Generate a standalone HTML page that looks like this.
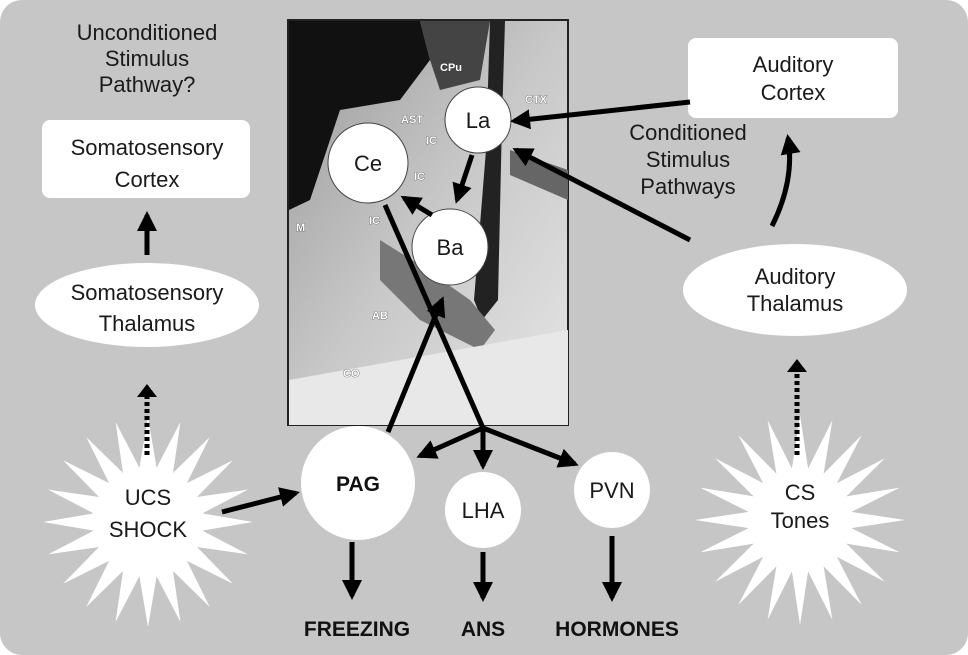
<!DOCTYPE html>
<html><head><meta charset="utf-8"><style>
html,body{margin:0;padding:0;background:#fff;}
svg{display:block;}
text{font-family:"Liberation Sans",sans-serif;fill:#1a1a1a;}
.lbl{font-size:22px;text-anchor:middle;}
.big{font-size:21px;font-weight:bold;text-anchor:middle;fill:#111;}
.ph{font-size:11px;font-weight:bold;fill:#fff;stroke:#333;stroke-width:0.6;paint-order:stroke;}
</style></head><body>
<svg id="s" width="968" height="655" viewBox="0 0 968 655" xmlns="http://www.w3.org/2000/svg">
<defs>
<marker id="ah" viewBox="0 0 10 10" refX="8" refY="5" markerWidth="4" markerHeight="4" orient="auto"><path d="M0,0 L10,5 L0,10 z" fill="#000"/></marker>
<linearGradient id="pg" x1="0" y1="0" x2="1" y2="1"><stop offset="0" stop-color="#999"/><stop offset="0.5" stop-color="#c8c8c8"/><stop offset="1" stop-color="#e6e6e6"/></linearGradient>
</defs>
<rect x="0" y="0" width="968" height="655" rx="22" fill="#c6c6c6"/>
<!-- photo -->
<rect x="288" y="20" width="280" height="405" fill="url(#pg)" stroke="#222" stroke-width="2"/>
<path d="M289,21 L420,21 L430,60 L400,100 L340,110 L310,200 L289,210 Z" fill="#111"/>
<path d="M420,21 L490,21 L480,80 L440,90 L430,60 Z" fill="#444"/>
<path d="M490,21 L505,21 L502,120 L498,300 L482,320 L474,300 L486,150 Z" fill="#222"/>
<path d="M380,240 L420,265 L470,300 L495,330 L480,350 L420,320 L380,280 Z" fill="#777"/>
<path d="M289,380 L568,330 L568,425 L289,425 Z" fill="#e8e8e8"/>
<path d="M510,150 L568,170 L568,200 L510,175 Z" fill="#666"/>
<text class="ph" x="440" y="71">CPu</text>
<text class="ph" x="525" y="103">CTX</text>
<text class="ph" x="401" y="123">AST</text>
<text class="ph" x="426" y="144">IC</text>
<text class="ph" x="414" y="180">IC</text>
<text class="ph" x="369" y="224">IC</text>
<text class="ph" x="296" y="231">M</text>
<text class="ph" x="372" y="319">AB</text>
<text class="ph" x="343" y="377">CO</text>
<circle cx="478" cy="120" r="33" fill="#fff" stroke="#444" stroke-width="1"/>
<text class="lbl" x="478" y="128">La</text>
<circle cx="368" cy="163" r="40" fill="#fff" stroke="#444" stroke-width="1"/>
<text class="lbl" x="368" y="171">Ce</text>
<circle cx="450" cy="247" r="38" fill="#fff" stroke="#444" stroke-width="1"/>
<text class="lbl" x="450" y="255">Ba</text>
<!-- left column -->
<text class="lbl" x="147" y="40">Unconditioned</text>
<text class="lbl" x="147" y="66">Stimulus</text>
<text class="lbl" x="147" y="92">Pathway?</text>
<rect x="42" y="120" width="208" height="78" rx="8" fill="#fff"/>
<text class="lbl" x="147" y="155">Somatosensory</text>
<text class="lbl" x="147" y="187">Cortex</text>
<ellipse cx="147" cy="305" rx="112" ry="42" fill="#fff"/>
<text class="lbl" x="147" y="300">Somatosensory</text>
<text class="lbl" x="147" y="331">Thalamus</text>
<polygon id="st1" fill="#fff"/>
<text class="lbl" x="148" y="505">UCS</text>
<text class="lbl" x="148" y="537">SHOCK</text>
<!-- right column -->
<rect x="688" y="38" width="210" height="80" rx="8" fill="#fff"/>
<text class="lbl" x="793" y="72">Auditory</text>
<text class="lbl" x="793" y="100">Cortex</text>
<text class="lbl" x="688" y="140">Conditioned</text>
<text class="lbl" x="688" y="167">Stimulus</text>
<text class="lbl" x="688" y="194">Pathways</text>
<ellipse cx="795" cy="290" rx="112" ry="46" fill="#fff"/>
<text class="lbl" x="795" y="284">Auditory</text>
<text class="lbl" x="795" y="311">Thalamus</text>
<polygon id="st2" fill="#fff"/>
<text class="lbl" x="800" y="500">CS</text>
<text class="lbl" x="800" y="528">Tones</text>
<g stroke="#000" stroke-width="5" fill="none">
<line x1="472" y1="155" x2="457" y2="200" marker-end="url(#ah)"/>
<line x1="432" y1="215" x2="404" y2="198" marker-end="url(#ah)"/>
<line x1="385" y1="205" x2="483" y2="428"/>
<line x1="388" y1="432" x2="442" y2="300" marker-end="url(#ah)"/>
<line x1="483" y1="428" x2="420" y2="456" marker-end="url(#ah)"/>
<line x1="483" y1="428" x2="483" y2="466" marker-end="url(#ah)"/>
<line x1="483" y1="428" x2="575" y2="464" marker-end="url(#ah)"/>
<line x1="690" y1="102" x2="514" y2="121" marker-end="url(#ah)"/>
<line x1="690" y1="240" x2="516" y2="150" marker-end="url(#ah)"/>
<path d="M772,226 Q795,180 788,138" marker-end="url(#ah)"/>
<line x1="147" y1="255" x2="147" y2="215" marker-end="url(#ah)"/>
<line x1="222" y1="512" x2="296" y2="493" marker-end="url(#ah)"/>
<line x1="352" y1="542" x2="352" y2="596" marker-end="url(#ah)"/>
<line x1="483" y1="552" x2="483" y2="598" marker-end="url(#ah)"/>
<line x1="612" y1="536" x2="612" y2="598" marker-end="url(#ah)"/>
<line x1="147" y1="455" x2="147" y2="395" stroke-dasharray="4,3"/>
<line x1="797" y1="455" x2="797" y2="370" stroke-dasharray="4,3"/>
</g>
<g fill="#000"><path d="M137,397 L157,397 L147,384 Z"/><path d="M787,372 L807,372 L797,359 Z"/></g>
<!-- bottom nodes -->
<circle cx="358" cy="483" r="57" fill="#fff"/>
<text class="big" x="358" y="491">PAG</text>
<circle cx="483" cy="510" r="38" fill="#fff"/>
<text class="lbl" x="483" y="518">LHA</text>
<circle cx="612" cy="490" r="38" fill="#fff"/>
<text class="lbl" x="612" y="498">PVN</text>
<text class="big" x="357" y="636">FREEZING</text>
<text class="big" x="483" y="636">ANS</text>
<text class="big" x="617" y="636">HORMONES</text>
</svg>
<script>
function star(id,cx,cy,ro,ri,n){var p=[];for(var i=0;i<2*n;i++){var a=Math.PI*i/n-Math.PI/2;var r=i%2?ri:ro;p.push((cx+r*Math.cos(a)).toFixed(1)+','+(cy+r*Math.sin(a)).toFixed(1));}document.getElementById(id).setAttribute('points',p.join(' '));}
star('st1',148,522,105,55,20);star('st2',800,520,105,52,20);
</script>
</body></html>
